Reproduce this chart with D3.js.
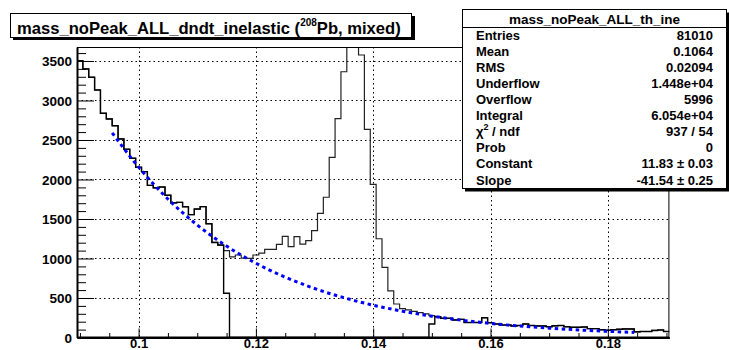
<!DOCTYPE html>
<html>
<head>
<meta charset="utf-8">
<script src="https://cdn.jsdelivr.net/npm/d3@7/dist/d3.min.js"></script>
<style>
    body { margin: 0; background: #fff; }
    svg { display: block; }
    text { font-family: "Liberation Sans", Arial, Helvetica, sans-serif; font-weight: bold; fill: #000; }
</style>
</head>
<body>
<svg id="stage" width="729" height="350"></svg>
<script>
// binning of both histograms
var bin_low = 0.0895;
var bin_width = 0.001;

// histogram without the peak (bins 26..59 empty)
var no_peak_counts = [
    3504, 3399, 3294, 3133, 2838, 2766, 2681, 2513, 2382, 2268,
    2154, 2099, 1925, 1895, 1905, 1800, 1705, 1710, 1655, 1555,
    1626, 1656, 1440, 1203, 1170, 560, 0, 0, 0, 0,
    0, 0, 0, 0, 0, 0, 0, 0, 0, 0,
    0, 0, 0, 0, 0, 0, 0, 0, 0, 0,
    0, 0, 0, 0, 0, 0, 0, 0, 0, 0,
    171, 263, 243, 243, 222, 230, 190, 190, 190, 250,
    187, 171, 158, 158, 146, 152, 171, 152, 146, 146,
    137, 148, 152, 137, 129, 129, 133, 112, 112, 99,
    91, 99, 104, 108, 108, 72, 76, 76, 89, 95,
    76
];
// full histogram (peak included, top of peak is cut by the frame)
var all_counts = [
    3504, 3399, 3294, 3133, 2838, 2766, 2681, 2513, 2382, 2268,
    2154, 2099, 1925, 1895, 1905, 1800, 1705, 1710, 1655, 1555,
    1626, 1656, 1440, 1203, 1170, 1100, 1020, 1044, 1005, 1002,
    1044, 1068, 1116, 1116, 1180, 1280, 1149, 1276, 1183, 1225,
    1352, 1572, 1775, 2281, 2770, 3364, 4400, 4600, 3576, 2635,
    1939, 1250, 887, 589, 424, 365, 350, 330, 315, 300,
    278, 263, 243, 243, 222, 230, 190, 190, 190, 250,
    187, 171, 158, 158, 146, 152, 171, 152, 146, 146,
    137, 148, 152, 137, 129, 129, 133, 112, 112, 99,
    91, 99, 104, 108, 108, 72, 76, 76, 89, 95,
    76
];

// fitted exponential
var fit_x = [0.0955, 0.100, 0.105, 0.110, 0.115, 0.120, 0.125, 0.130, 0.135, 0.140,
             0.145, 0.150, 0.155, 0.160, 0.165, 0.170, 0.175, 0.180, 0.1845];
var fit_y = [2590, 2157, 1753, 1424, 1157, 940, 764, 620, 504, 409,
             333, 270, 220, 178, 145, 118, 96, 78, 64];

var x_major_ticks = [0.1, 0.12, 0.14, 0.16, 0.18];
var x_minor_ticks = [0.09, 0.095, 0.105, 0.11, 0.115, 0.125, 0.13, 0.135, 0.145, 0.15,
                     0.155, 0.165, 0.17, 0.175, 0.185, 0.19];
var y_major_ticks = [0, 500, 1000, 1500, 2000, 2500, 3000, 3500];

var title_main = 'mass_noPeak_ALL_dndt_inelastic (';
var title_sup = '208';
var title_tail = 'Pb, mixed)';

var stats_name = 'mass_noPeak_ALL_th_ine';
var stats_labels = ['Entries', 'Mean', 'RMS', 'Underflow', 'Overflow', 'Integral', 'chi2', 'Prob', 'Constant', 'Slope'];
var stats_values = ['81010', '0.1064', '0.02094', '1.448e+04', '5996', '6.054e+04', '937 / 54', '0', '11.83 \u00b1 0.03', '-41.54 \u00b1 0.25'];

var frame = {left: 77, right: 669.4, top: 47, bottom: 337.5};

var svg = d3.select('#stage');
svg.append('rect').attr('width', 729).attr('height', 350).attr('fill', '#fff');

var x = d3.scaleLinear().domain([bin_low, bin_low + bin_width * all_counts.length]).range([frame.left, frame.right]);
var y = d3.scaleLinear().domain([0, 3677]).range([frame.bottom, frame.top]);

svg.append('clipPath').attr('id', 'frame_clip')
    .append('rect')
    .attr('x', frame.left).attr('y', frame.top)
    .attr('width', frame.right - frame.left).attr('height', frame.bottom - frame.top);

// grid
var grid = svg.append('g').attr('stroke', '#000').attr('stroke-width', 1).attr('stroke-dasharray', '1.5,3');
grid.selectAll('line.gx').data(x_major_ticks).enter().append('line')
    .attr('x1', function (d) { return Math.round(x(d)) + 0.5; })
    .attr('x2', function (d) { return Math.round(x(d)) + 0.5; })
    .attr('y1', frame.top).attr('y2', frame.bottom);
grid.selectAll('line.gy').data(y_major_ticks.slice(1)).enter().append('line')
    .attr('y1', function (d) { return Math.round(y(d)) + 0.5; })
    .attr('y2', function (d) { return Math.round(y(d)) + 0.5; })
    .attr('x1', frame.left).attr('x2', frame.right);

// histograms as step lines
var hist_line = d3.line()
    .x(function (d) { return x(d[0]); })
    .y(function (d) { return y(d[1]); })
    .curve(d3.curveStepAfter);

function hist_points(counts) {
    var pts = counts.map(function (c, i) { return [bin_low + i * bin_width, c]; });
    pts.push([bin_low + counts.length * bin_width, counts[counts.length - 1]]);
    return pts;
}

var plot = svg.append('g').attr('clip-path', 'url(#frame_clip)');
plot.append('path')
    .attr('d', hist_line(hist_points(all_counts)))
    .attr('fill', 'none').attr('stroke', '#222').attr('stroke-width', 1.2);
plot.append('path')
    .attr('d', hist_line(hist_points(no_peak_counts)))
    .attr('fill', 'none').attr('stroke', '#000').attr('stroke-width', 1.4);

// fit curve
var fit_line = d3.line()
    .x(function (d, i) { return x(fit_x[i]); })
    .y(function (d) { return y(d); })
    .curve(d3.curveMonotoneX);
plot.append('path')
    .attr('d', fit_line(fit_y))
    .attr('fill', 'none').attr('stroke', '#0000ff').attr('stroke-width', 3)
    .attr('stroke-dasharray', '3.5,3.5');

// frame + axes
svg.append('rect')
    .attr('x', frame.left + 0.5).attr('y', frame.top + 0.5)
    .attr('width', frame.right - frame.left - 1).attr('height', frame.bottom - frame.top - 1)
    .attr('fill', 'none').attr('stroke', '#000').attr('stroke-width', 1);

var y_axis = d3.axisRight(y).tickValues(d3.range(0, 3700, 100))
    .tickSize(0).tickFormat('');
var y_axis_g = svg.append('g').attr('transform', 'translate(' + frame.left + ',0)').call(y_axis);
y_axis_g.select('.domain').attr('stroke', '#000').attr('stroke-width', 2);
y_axis_g.selectAll('.tick line')
    .attr('x2', function (d) { return d % 500 === 0 ? 17 : 9; })
    .attr('stroke', '#000');
y_axis_g.selectAll('.tick').filter(function (d) { return d % 500 === 0; })
    .append('text')
    .attr('x', -5).attr('dy', '0.35em')
    .attr('text-anchor', 'end')
    .style('font-size', '13.5px')
    .text(function (d) { return d; });

var x_axis = d3.axisTop(x).tickValues(x_major_ticks.concat(x_minor_ticks))
    .tickSize(0).tickFormat('');
var x_axis_g = svg.append('g').attr('transform', 'translate(0,' + frame.bottom + ')').call(x_axis);
x_axis_g.select('.domain').attr('stroke', '#000').attr('stroke-width', 2);
x_axis_g.selectAll('.tick line')
    .attr('y2', function (d) { return x_major_ticks.indexOf(d) > -1 ? -9 : -4.5; })
    .attr('stroke', '#000');
x_axis_g.selectAll('.tick').filter(function (d) { return x_major_ticks.indexOf(d) > -1; })
    .append('text')
    .attr('y', 10.5)
    .attr('text-anchor', 'middle')
    .style('font-size', '13px')
    .text(function (d) { return d3.format('.2~f')(d); });

// title box
svg.append('rect').attr('x', 13).attr('y', 16).attr('width', 402).attr('height', 24).attr('fill', '#000');
svg.append('rect').attr('x', 10.5).attr('y', 13.5).attr('width', 401).attr('height', 24)
    .attr('fill', '#fff').attr('stroke', '#000').attr('stroke-width', 1);
var title = svg.append('text').attr('x', 17).attr('y', 34).style('font-size', '16.6px');
title.append('tspan').text(title_main);
title.append('tspan').attr('dy', -8).style('font-size', '10px').text(title_sup);
title.append('tspan').attr('dy', 8).text(title_tail);

// stats box
var sb = {left: 462, right: 727, top: 9.5, head: 27.5, bottom: 188.5};
svg.append('rect').attr('x', sb.left + 3).attr('y', sb.top + 3)
    .attr('width', sb.right - sb.left).attr('height', sb.bottom - sb.top).attr('fill', '#000');
svg.append('rect').attr('x', sb.left + 0.5).attr('y', sb.top)
    .attr('width', sb.right - sb.left - 1).attr('height', sb.bottom - sb.top)
    .attr('fill', '#fff').attr('stroke', '#000').attr('stroke-width', 1);
svg.append('line').attr('x1', sb.left).attr('x2', sb.right).attr('y1', sb.head).attr('y2', sb.head)
    .attr('stroke', '#000').attr('stroke-width', 1);
svg.append('text').attr('x', (sb.left + sb.right) / 2).attr('y', 23.5)
    .attr('text-anchor', 'middle').style('font-size', '13.5px').text(stats_name);

var row_y = d3.scaleLinear().domain([0, stats_labels.length - 1]).range([39.5, 184.5]);
var rows = svg.append('g').style('font-size', '13px');
stats_labels.forEach(function (label, i) {
    var t = rows.append('text').attr('x', 476).attr('y', row_y(i));
    if (label === 'chi2') {
        t.append('tspan').text('\u03c7');
        t.append('tspan').attr('dy', -6).style('font-size', '9px').text('2');
        t.append('tspan').attr('dy', 6).text(' / ndf');
    } else {
        t.text(label);
    }
    rows.append('text').attr('x', 713).attr('y', row_y(i)).attr('text-anchor', 'end').text(stats_values[i]);
});
</script>
</body>
</html>
